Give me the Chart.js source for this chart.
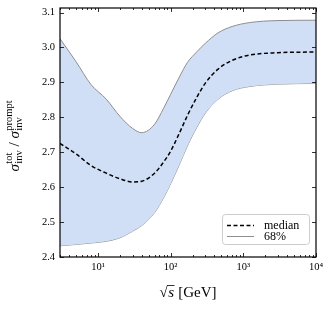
<!DOCTYPE html>
<html>
<head>
<meta charset="utf-8">
<script src="https://cdn.jsdelivr.net/npm/chart.js@4.4.1/dist/chart.umd.min.js"></script>
<style>
  html, body { margin: 0; padding: 0; background: #fff; }
</style>
</head>
<body>
<canvas id="ratioChart" width="333" height="310"></canvas>
<script>
// sqrt(s) in GeV and the ratio sigma_tot / sigma_prompt
const energies = [3, 5, 8, 13, 20, 30, 40, 60, 80, 100, 130, 170, 230, 300, 450, 700, 1200, 3000, 10000];
const median = [2.725, 2.695, 2.662, 2.640, 2.624, 2.615, 2.617, 2.640, 2.672, 2.703, 2.752, 2.805, 2.858, 2.898, 2.938, 2.963, 2.978, 2.985, 2.987];
const upper  = [3.025, 2.959, 2.894, 2.852, 2.803, 2.768, 2.756, 2.780, 2.826, 2.866, 2.913, 2.957, 2.988, 3.012, 3.042, 3.060, 3.071, 3.077, 3.078];
const lower  = [2.432, 2.436, 2.440, 2.445, 2.455, 2.474, 2.490, 2.527, 2.570, 2.610, 2.662, 2.718, 2.772, 2.812, 2.852, 2.876, 2.888, 2.895, 2.897];

const yTicks = [2.4, 2.5, 2.6, 2.7, 2.8, 2.9, 3.0, 3.1];
const xMajor = [10, 100, 1000, 10000];
const xTickLabels = ['10¹', '10²', '10³', '10⁴'];

const serif = '"Liberation Serif", "DejaVu Serif", serif';

const pts = arr => energies.map((e, i) => ({ x: e, y: arr[i] }));

// log ticks 1..9 x 10^n inside the range
function logTicks(min, max) {
  const out = [];
  for (let e = Math.floor(Math.log10(min)); e <= Math.ceil(Math.log10(max)); e++) {
    for (let m = 1; m < 10; m++) {
      const v = m * Math.pow(10, e);
      if (v >= min && v <= max) out.push({ value: v });
    }
  }
  return out;
}

const framePlugin = {
  id: 'frame',
  afterDraw(chart) {
    const { ctx, chartArea: a, scales: { x, y } } = chart;
    ctx.save();
    ctx.strokeStyle = '#000';
    ctx.fillStyle = '#000';

    // inward ticks, all four sides
    ctx.lineWidth = 0.8;
    ctx.beginPath();
    x.ticks.forEach(t => {
      const px = Math.round(x.getPixelForValue(t.value)) + 0.5;
      const major = xMajor.includes(t.value);
      const len = major ? 4 : 2;
      ctx.moveTo(px, a.bottom); ctx.lineTo(px, a.bottom - len);
      ctx.moveTo(px, a.top); ctx.lineTo(px, a.top + len);
    });
    yTicks.forEach(v => {
      const py = Math.round(y.getPixelForValue(v)) + 0.5;
      ctx.moveTo(a.left, py); ctx.lineTo(a.left + 4, py);
      ctx.moveTo(a.right, py); ctx.lineTo(a.right - 4, py);
    });
    ctx.stroke();

    // frame
    ctx.lineWidth = 1.2;
    ctx.strokeRect(a.left, a.top, a.right - a.left, a.bottom - a.top);

    // tick labels
    ctx.font = '10.5px ' + serif;
    ctx.textAlign = 'right';
    ctx.textBaseline = 'middle';
    yTicks.forEach(v => ctx.fillText(v.toFixed(1), a.left - 5, y.getPixelForValue(v)));
    ctx.textAlign = 'center';
    ctx.textBaseline = 'alphabetic';
    xMajor.forEach((v, i) => ctx.fillText(xTickLabels[i], x.getPixelForValue(v), a.bottom + 13));

    // x title: sqrt(s) [GeV]
    ctx.textAlign = 'left';
    const base = 297;
    const fx = '15px ' + serif, fxi = 'italic 15px ' + serif;
    ctx.font = fx;
    const wRoot = ctx.measureText('√').width;
    const wUnit = ctx.measureText(' [GeV]').width;
    ctx.font = fxi;
    const wS = ctx.measureText('s').width + 1;
    let tx = (a.left + a.right) / 2 - (wRoot + wS + wUnit) / 2;
    ctx.font = fx;
    ctx.fillText('√', tx, base);
    ctx.lineWidth = 0.8;
    ctx.beginPath();
    ctx.moveTo(tx + wRoot - 0.5, base - 11.5);
    ctx.lineTo(tx + wRoot + wS, base - 11.5);
    ctx.stroke();
    ctx.font = fxi;
    ctx.fillText('s', tx + wRoot + 0.5, base);
    ctx.font = fx;
    ctx.fillText(' [GeV]', tx + wRoot + wS, base);

    // y title: sigma_inv^tot / sigma_inv^prompt
    ctx.save();
    ctx.translate(19, 136);
    ctx.rotate(-Math.PI / 2);
    const parts = [
      { t: 'σ', sub: 'inv', sup: 'tot' },
      { t: ' / ' },
      { t: 'σ', sub: 'inv', sup: 'prompt' }
    ];
    const big = 'italic 15px ' + serif, small = '10.5px ' + serif;
    const widths = parts.map(p => {
      ctx.font = p.sub ? big : '15px ' + serif;
      let w = ctx.measureText(p.t).width;
      if (p.sub) {
        ctx.font = small;
        w += 0.5 + Math.max(ctx.measureText(p.sub).width, ctx.measureText(p.sup).width);
      }
      return w;
    });
    let cx = -widths.reduce((s, w) => s + w, 0) / 2;
    parts.forEach((p, i) => {
      ctx.font = p.sub ? big : '15px ' + serif;
      ctx.fillText(p.t, cx, 0);
      if (p.sub) {
        const w0 = ctx.measureText(p.t).width;
        ctx.font = small;
        ctx.fillText(p.sub, cx + w0 + 0.5, 3);
        ctx.fillText(p.sup, cx + w0 + 0.5, -7.5);
      }
      cx += widths[i];
    });
    ctx.restore();

    // legend box in the lower right
    const bx = a.right - 94, by = a.bottom - 43, bw = 87, bh = 30;
    ctx.fillStyle = 'rgba(255,255,255,0.85)';
    ctx.strokeStyle = '#cccccc';
    ctx.lineWidth = 1;
    ctx.beginPath();
    ctx.roundRect(bx + 0.5, by + 0.5, bw, bh, 3);
    ctx.fill();
    ctx.stroke();
    const entries = [chart.data.datasets[0], chart.data.datasets[1]];
    entries.forEach((ds, i) => {
      const ly = by + 11.5 + i * 11;
      ctx.strokeStyle = ds.borderColor;
      ctx.lineWidth = ds.borderWidth;
      ctx.setLineDash(ds.borderDash || []);
      ctx.beginPath();
      ctx.moveTo(bx + 5, ly);
      ctx.lineTo(bx + 32, ly);
      ctx.stroke();
      ctx.setLineDash([]);
      ctx.fillStyle = '#000';
      ctx.font = '12px ' + serif;
      ctx.textBaseline = 'middle';
      ctx.fillText(ds.label, bx + 42, ly);
    });
    ctx.restore();
  }
};

const hidden = {
  grid: { display: false },
  border: { display: false },
  ticks: { display: false },
  title: { display: false }
};

const curve = { pointRadius: 0, cubicInterpolationMode: 'monotone' };

new Chart(document.getElementById('ratioChart').getContext('2d'), {
  type: 'line',
  data: {
    datasets: [
      {
        label: 'median',
        data: pts(median),
        borderColor: '#000',
        borderWidth: 1.5,
        borderDash: [4, 2.5],
        fill: false,
        ...curve
      },
      {
        label: '68%',
        data: pts(upper),
        borderColor: '#8e8e8e',
        borderWidth: 1,
        backgroundColor: '#d0def6',
        fill: '+1',
        ...curve
      },
      {
        label: '68% lower',
        data: pts(lower),
        borderColor: '#8e8e8e',
        borderWidth: 1,
        fill: false,
        ...curve
      }
    ]
  },
  options: {
    responsive: false,
    animation: false,
    layout: { padding: { left: 52, right: 17, top: 8, bottom: 45 } },
    scales: {
      x: {
        type: 'logarithmic', min: 3, max: 10000, ...hidden,
        afterBuildTicks: s => { s.ticks = logTicks(3, 10000); }
      },
      y: { type: 'linear', min: 2.4, max: 3.113, ...hidden }
    },
    plugins: {
      legend: { display: false },
      tooltip: { enabled: false }
    }
  },
  plugins: [framePlugin]
});
</script>
</body>
</html>
